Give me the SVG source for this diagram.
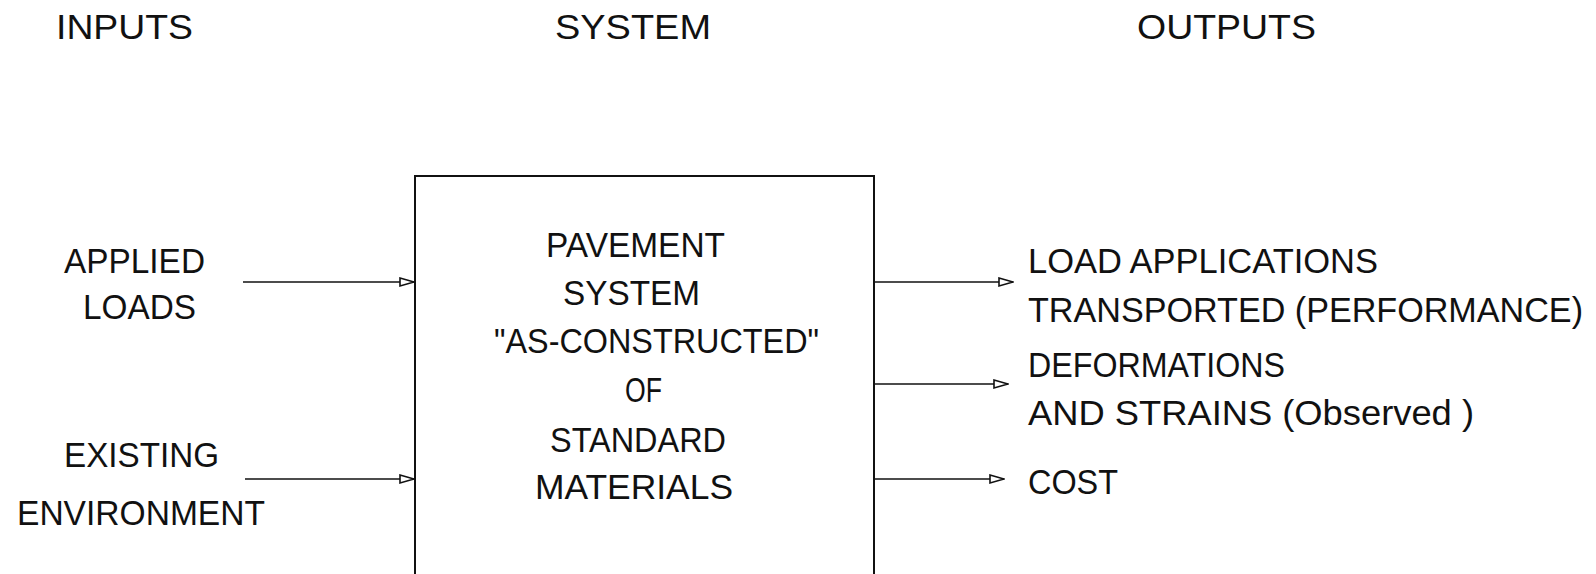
<svg xmlns="http://www.w3.org/2000/svg" width="1596" height="574" viewBox="0 0 1596 574">
<style>
text{font-family:"Liberation Sans",Arial,sans-serif;font-size:35px;fill:#111;}
.ln{stroke:#111;stroke-width:1.6;fill:none;}
.box{stroke:#111;stroke-width:2;fill:none;}
</style>
<defs>
<marker id="ah" markerWidth="16" markerHeight="12" refX="15" refY="6" orient="auto" markerUnits="userSpaceOnUse">
<path d="M1,2 L15,6 L1,10 Z" fill="#fff" stroke="#111" stroke-width="1.6"/>
</marker>
</defs>
<g id="headers">
<text x="56" y="39" textLength="137" lengthAdjust="spacingAndGlyphs">INPUTS</text>
<text x="555" y="39" textLength="156" lengthAdjust="spacingAndGlyphs">SYSTEM</text>
<text x="1137" y="39" textLength="179" lengthAdjust="spacingAndGlyphs">OUTPUTS</text>
</g>
<g id="applied-loads">
<text x="64" y="273" textLength="141" lengthAdjust="spacingAndGlyphs">APPLIED</text>
<text x="83" y="319" textLength="113" lengthAdjust="spacingAndGlyphs">LOADS</text>
</g>
<g id="existing-environment">
<text x="64" y="467" textLength="155" lengthAdjust="spacingAndGlyphs">EXISTING</text>
<text x="17" y="525" textLength="248" lengthAdjust="spacingAndGlyphs">ENVIRONMENT</text>
</g>
<g id="pavement-system">
<path class="box" d="M415,590 V176 H874 V590"/>
<text x="546" y="257" textLength="179" lengthAdjust="spacingAndGlyphs">PAVEMENT</text>
<text x="563" y="305" textLength="137" lengthAdjust="spacingAndGlyphs">SYSTEM</text>
<text x="494" y="353" textLength="325" lengthAdjust="spacingAndGlyphs">"AS-CONSTRUCTED"</text>
<text x="625" y="402" textLength="37" lengthAdjust="spacingAndGlyphs">OF</text>
<text x="550" y="452" textLength="176" lengthAdjust="spacingAndGlyphs">STANDARD</text>
<text x="535" y="499" textLength="198" lengthAdjust="spacingAndGlyphs">MATERIALS</text>
</g>
<g id="output-performance">
<text x="1028" y="273" textLength="350" lengthAdjust="spacingAndGlyphs">LOAD APPLICATIONS</text>
<text x="1028" y="322" textLength="555" lengthAdjust="spacingAndGlyphs">TRANSPORTED (PERFORMANCE)</text>
</g>
<g id="output-deformations">
<text x="1028" y="377" textLength="257" lengthAdjust="spacingAndGlyphs">DEFORMATIONS</text>
<text x="1028" y="425" textLength="446" lengthAdjust="spacingAndGlyphs">AND STRAINS (Observed )</text>
</g>
<g id="output-cost">
<text x="1028" y="494" textLength="90" lengthAdjust="spacingAndGlyphs">COST</text>
</g>
<g id="connectors">
<line class="ln" x1="243" y1="282" x2="414" y2="282" marker-end="url(#ah)"/>
<line class="ln" x1="245" y1="479" x2="414" y2="479" marker-end="url(#ah)"/>
<line class="ln" x1="875" y1="282" x2="1013" y2="282" marker-end="url(#ah)"/>
<line class="ln" x1="875" y1="384" x2="1008" y2="384" marker-end="url(#ah)"/>
<line class="ln" x1="875" y1="479" x2="1004" y2="479" marker-end="url(#ah)"/>
</g>
</svg>
